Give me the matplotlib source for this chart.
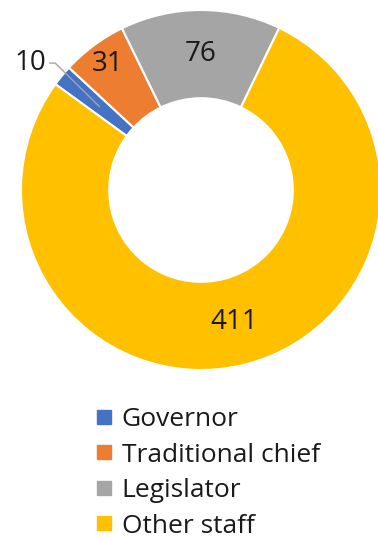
import numpy as np
import matplotlib
matplotlib.use('Agg')
import matplotlib.pyplot as plt
from matplotlib.lines import Line2D

categories = ['Governor', 'Traditional chief', 'Legislator', 'Other staff']
counts = [10, 31, 76, 411]
colors = ['#4472C4', '#ED7D31', '#A5A5A5', '#FFC000']

plt.rcParams['font.family'] = ['Open Sans', 'DejaVu Sans']

W, H = 378, 541
fig = plt.figure(figsize=(W / 100, H / 100), dpi=100)

# square axes of radius 180px centred at (201, 190) from top-left
R = 180
cx, cy = 201, 190
ax = fig.add_axes([(cx - R) / W, (H - cy - R) / H, 2 * R / W, 2 * R / H])

wedges, _ = ax.pie(counts, colors=colors, startangle=144, counterclock=False,
                   radius=1, wedgeprops=dict(width=0.49, edgecolor='white', linewidth=1.5))
ax.set_xlim(-1, 1)
ax.set_ylim(-1, 1)
ax.set_aspect('equal')
ax.axis('off')

# value labels placed on the ring
label_r = [None, 0.87, 0.755, 0.755]
for w, v, r in zip(wedges, counts, label_r):
    mid = np.deg2rad((w.theta1 + w.theta2) / 2)
    if r is None:
        continue
    ax.text(r * np.cos(mid), r * np.sin(mid), str(v), ha='center', va='center',
            fontsize=20, color='#1a1a1a')

# small slice gets an outside label with a leader line
w = wedges[0]
mid = np.deg2rad((w.theta1 + w.theta2) / 2)
px, py = 0.73 * np.cos(mid), 0.73 * np.sin(mid)
ax.plot([px, -0.81, -0.84], [py, 0.705, 0.705], color='#A5A5A5', lw=1, clip_on=False)
ax.text(-0.86, 0.705, str(counts[0]), ha='right', va='center', fontsize=20,
        color='#1a1a1a')

handles = [Line2D([], [], marker='s', linestyle='none', markersize=10,
                  markerfacecolor=c, markeredgecolor=c) for c in colors]
fig.legend(handles, categories, loc='upper left', bbox_to_anchor=(94 / W, 1 - 407 / H),
           frameon=False, fontsize=19, handlelength=0.75, handletextpad=0.3,
           labelspacing=0.4, borderpad=0, borderaxespad=0, labelcolor='#1a1a1a')

fig.savefig('out.png', dpi=100)
